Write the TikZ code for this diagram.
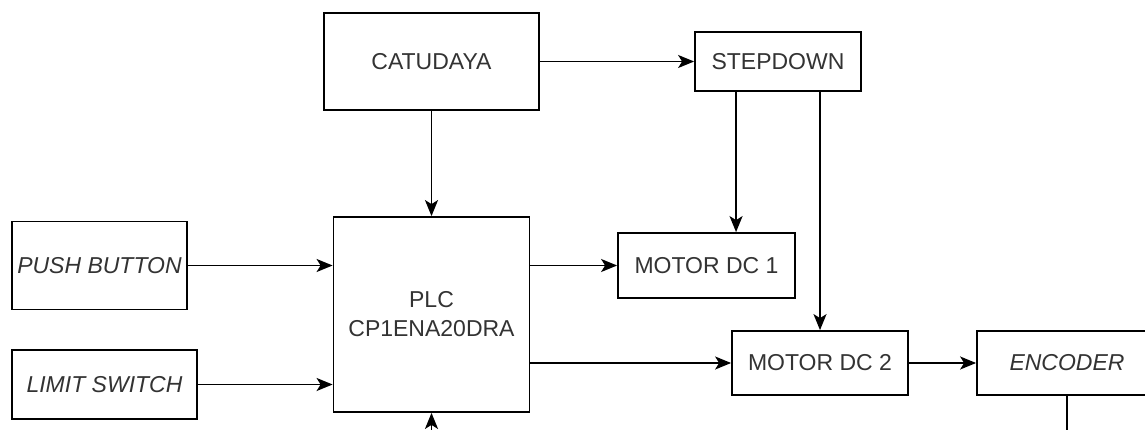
\documentclass[tikz,border=0pt]{standalone}
\usepackage{fontspec}
\setmainfont{Liberation Sans}
\usepackage{tikz}
\usetikzlibrary{positioning, arrows.meta, calc}

\definecolor{txtgray}{HTML}{333333}

\begin{document}
\begin{tikzpicture}[
    x=1pt, y={(0pt,-1pt)},
    block/.style={draw, rectangle, line width=1.8pt, inner sep=0pt, align=center, fill=white, text=txtgray, font=\fontsize{23}{29}\selectfont},
    conn/.style={line width=1.8pt, -{Stealth[length=16pt, width=13pt, inset=4pt]}}
]
    \useasboundingbox (0,0) rectangle (1145,430);
    \clip (0,0) rectangle (1145,430);

    % ================= BLOCKS =================
    \node[block, minimum width=215pt, minimum height=97pt] (CAT)  at (431.5, 61.5) {CATUDAYA};
    \node[block, minimum width=166pt, minimum height=59pt] (STEP) at (778, 61.5) {STEPDOWN};
    \node[block, minimum width=196pt, minimum height=195pt] (PLC) at (431.5, 314.5) {PLC\\CP1ENA20DRA};
    \node[block, minimum width=175pt, minimum height=88pt] (PB)   at (99.5, 265.5) {\itshape PUSH BUTTON};
    \node[block, minimum width=185pt, minimum height=69pt] (LS)   at (104.5, 384.5) {\itshape LIMIT SWITCH};
    \node[block, minimum width=177pt, minimum height=65pt] (M1)   at (706.5, 265.5) {MOTOR DC 1};
    \node[block, minimum width=176pt, minimum height=64pt] (M2)   at (820, 363) {MOTOR DC 2};
    \node[block, minimum width=180pt, minimum height=64pt] (ENC)  at (1067, 363) {\itshape ENCODER};

    % free ends below the frame
    \coordinate (plcin)  at (431.5, 445);
    \coordinate (encout) at (1067, 445);
    \coordinate (s1) at ($(STEP.south west)!.25!(STEP.south east)$);

    % ================= CONNECTIONS =================
    % power supply
    \draw[conn] (CAT) -- (STEP);
    \draw[conn] (CAT) -- (PLC);
    \draw[conn] (s1) -- (s1 |- M1.north);
    \draw[conn] (STEP.south -| M2.north) -- (M2.north);

    % inputs
    \draw[conn] (PB.east) -- (PB.east -| PLC.west);
    \draw[conn] (LS.east) -- (LS.east -| PLC.west);
    \draw[conn] (plcin) -- (PLC.south);

    % outputs
    \draw[conn] (PLC.east |- M1.west) -- (M1.west);
    \draw[conn] (PLC.east |- M2.west) -- (M2.west);
    \draw[conn] (M2) -- (ENC);
    \draw[line width=1.8pt] (ENC.south) -- (encout);

\end{tikzpicture}
\end{document}
